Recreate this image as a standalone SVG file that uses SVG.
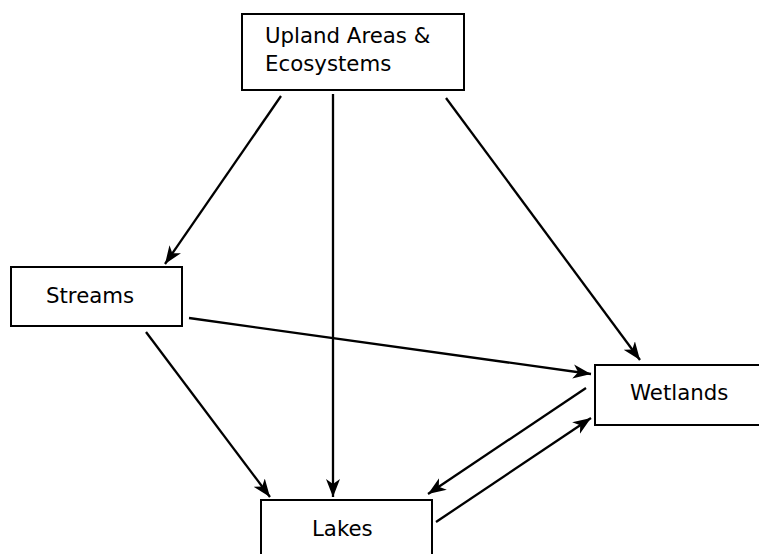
<svg xmlns="http://www.w3.org/2000/svg" width="759" height="554" viewBox="0 0 759 554">
<style>
.box{fill:#fff;stroke:#000;stroke-width:2}
.lbl{font-family:"DejaVu Sans",sans-serif;font-size:21.3px;fill:#000}
.edge{stroke:#000;stroke-width:2.3;fill:none;marker-end:url(#ah)}
</style>
<defs>
<marker id="ah" markerUnits="userSpaceOnUse" markerWidth="20" markerHeight="16" refX="18" refY="8" orient="auto">
<path d="M0,1 L18,8 L0,15 L5,8 z" fill="#000"/>
</marker>
</defs>
<rect width="759" height="554" fill="#fff"/>
<g id="connectors">
<line class="edge" x1="281" y1="96" x2="165" y2="264"/>
<line class="edge" x1="333" y1="94" x2="333" y2="497"/>
<line class="edge" x1="446" y1="98" x2="640" y2="360"/>
<line class="edge" x1="189" y1="318" x2="591" y2="374"/>
<line class="edge" x1="146" y1="332" x2="270" y2="497"/>
<line class="edge" x1="586" y1="388" x2="428" y2="494"/>
<line class="edge" x1="436" y1="522" x2="591" y2="418"/>
</g>
<g id="upland">
<rect class="box" x="242" y="14" width="222" height="76"/>
<text class="lbl" x="265" y="43">Upland Areas &amp;</text>
<text class="lbl" x="265" y="71">Ecosystems</text>
</g>
<g id="streams">
<rect class="box" x="11" y="267" width="171" height="59"/>
<text class="lbl" x="46" y="303">Streams</text>
</g>
<g id="wetlands">
<rect class="box" x="595" y="365" width="170" height="60"/>
<text class="lbl" x="630" y="400">Wetlands</text>
</g>
<g id="lakes">
<rect class="box" x="261" y="500" width="171" height="60"/>
<text class="lbl" x="312" y="536">Lakes</text>
</g>
</svg>
